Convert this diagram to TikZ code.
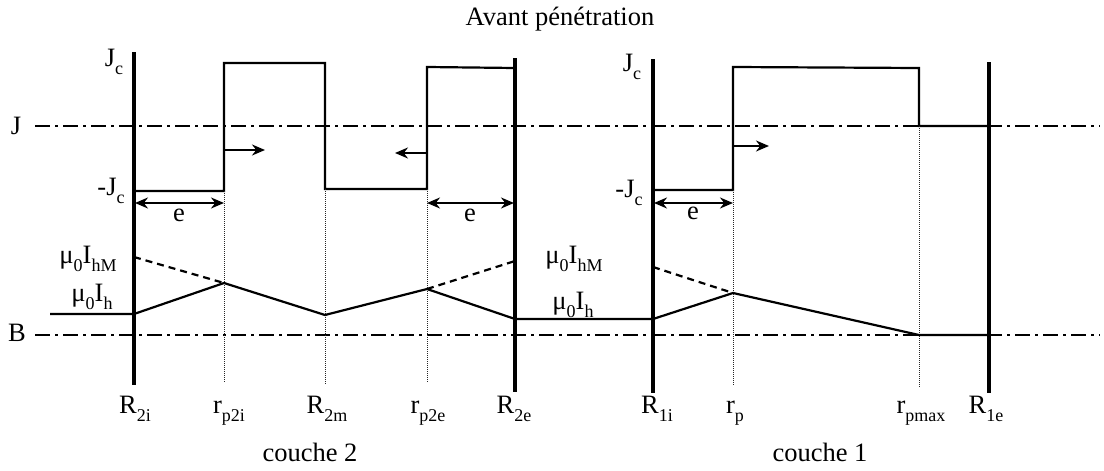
\documentclass[tikz,border=0pt]{standalone}
\usepackage{fontspec}
\setmainfont{Liberation Serif}
\usetikzlibrary{arrows.meta}
\newcommand{\lo}[1]{\raisebox{-0.33em}{\fontsize{18}{20}\selectfont #1}}
\begin{document}
\begin{tikzpicture}[x=1pt,y=-1pt,
  thickbar/.style={line width=4.4pt},
  prof/.style={line width=2.2pt},
  axisline/.style={line width=2pt, dash pattern=on 15pt off 5pt on 3pt off 5pt},
  guide/.style={line width=0.9pt, dash pattern=on 1pt off 1pt, black!85},
  dashprof/.style={line width=2.2pt, dash pattern=on 7pt off 5pt},
  earrow/.style={line width=2pt, {Stealth[length=13pt,width=11pt]}-{Stealth[length=13pt,width=11pt]}},
  darrow/.style={line width=2pt, -{Stealth[length=13pt,width=11pt]}},
  lbl/.style={font=\fontsize{26.5}{30}\selectfont, inner sep=0pt, anchor=base},
]
\useasboundingbox (0,0) rectangle (1104,471);

% title
\node[lbl] (title) at (560,25) {Avant pénétration};

% axis lines
\coordinate (Jl) at (35,126); \coordinate (Jr) at (1100,126);
\coordinate (Bl) at (35,335); \coordinate (Br) at (1100,335);
\draw[axisline] (Jl) -- (Jr);
\draw[axisline] (Bl) -- (Br);
\node[lbl] (Jlab) at (16,134) {J};
\node[lbl] (Blab) at (17,341) {B};

% thick bars
\coordinate (R2it) at (134,52);  \coordinate (R2ib) at (134,385);
\coordinate (R2et) at (515,58);  \coordinate (R2eb) at (515,392);
\coordinate (R1it) at (653,59);  \coordinate (R1ib) at (653,393);
\coordinate (R1et) at (989,62);  \coordinate (R1eb) at (989,393);
\draw[thickbar] (R2it) -- (R2ib);
\draw[thickbar] (R2et) -- (R2eb);
\draw[thickbar] (R1it) -- (R1ib);
\draw[thickbar] (R1et) -- (R1eb);

% J profile, couche 2
\coordinate (a1) at (134,191); \coordinate (a2) at (224,191);
\coordinate (a3) at (224,63);  \coordinate (a4) at (325,63);
\coordinate (a5) at (325,189); \coordinate (a6) at (427,189);
\coordinate (a7) at (427,67);  \coordinate (a8) at (515,68);
\draw[prof] (a1) -- (a2) -- (a3) -- (a4) -- (a5) -- (a6) -- (a7) -- (a8);
% J profile, couche 1
\coordinate (b1) at (653,190); \coordinate (b2) at (733,190);
\coordinate (b3) at (733,67);  \coordinate (b4) at (919,68);
\coordinate (b5) at (919,126); \coordinate (b6) at (989,126);
\draw[prof] (b1) -- (b2) -- (b3) -- (b4) -- (b5) -- (b6);

% thin guides
\coordinate (g1) at (224,383); \coordinate (g2) at (325,384);
\coordinate (g3) at (427,383); \coordinate (g4) at (733,385);
\coordinate (g5) at (919,387);
\draw[guide] (a2) -- (g1);
\draw[guide] (a5) -- (g2);
\draw[guide] (a6) -- (g3);
\draw[guide] (b2) -- (g4);
\draw[guide] (b5) -- (g5);

% B profile
\coordinate (c0) at (50,314);  \coordinate (c1) at (134,314);
\coordinate (c2) at (224,283); \coordinate (c3) at (325,315);
\coordinate (c4) at (427,289); \coordinate (c5) at (515,319);
\coordinate (c6) at (653,319); \coordinate (c7) at (733,293);
\coordinate (c8) at (919,335); \coordinate (c9) at (989,335);
\draw[prof] (c0) -- (c1) -- (c2) -- (c3) -- (c4) -- (c5) -- (c6) -- (c7) -- (c8) -- (c9);
\coordinate (d1) at (134,257); \coordinate (d2) at (515,261); \coordinate (d3) at (653,267);
\draw[dashprof] (d1) -- (c2);
\draw[dashprof] (c4) -- (d2);
\draw[dashprof] (d3) -- (c7);

% e arrows
\coordinate (e1a) at (135,203); \coordinate (e1b) at (224,203);
\coordinate (e2a) at (427,203); \coordinate (e2b) at (514,203);
\coordinate (e3a) at (654,203); \coordinate (e3b) at (733,203);
\draw[earrow] (e1a) -- (e1b);
\draw[earrow] (e2a) -- (e2b);
\draw[earrow] (e3a) -- (e3b);
\node[lbl] (e1) at (179,221) {e};
\node[lbl] (e2) at (470,221) {e};
\node[lbl] (e3) at (693,219) {e};

% direction arrows
\coordinate (f1a) at (224,150); \coordinate (f1b) at (265,150);
\coordinate (f2a) at (427,153); \coordinate (f2b) at (395,153);
\coordinate (f3a) at (733,146); \coordinate (f3b) at (769,146);
\draw[darrow] (f1a) -- (f1b);
\draw[darrow] (f2a) -- (f2b);
\draw[darrow] (f3a) -- (f3b);

% J labels
\node[lbl] (Jc1) at (114,66) {J\lo{c}};
\node[lbl] (mJc1) at (111,195) {-J\lo{c}};
\node[lbl] (Jc2) at (632,71) {J\lo{c}};
\node[lbl] (mJc2) at (629,197) {-J\lo{c}};

% B labels
\node[lbl] (mhM1) at (88,263) {μ\lo{0}I\lo{hM}};
\node[lbl] (mh1) at (92,301) {μ\lo{0}I\lo{h}};
\node[lbl] (mhM2) at (574,263) {μ\lo{0}I\lo{hM}};
\node[lbl] (mh2) at (573,309) {μ\lo{0}I\lo{h}};

% bottom labels
\node[lbl] (lR2i) at (135,413) {R\lo{2i}};
\node[lbl] (lrp2i) at (229,413) {r\lo{p2i}};
\node[lbl] (lR2m) at (327,413) {R\lo{2m}};
\node[lbl] (lrp2e) at (428,413) {r\lo{p2e}};
\node[lbl] (lR2e) at (514,413) {R\lo{2e}};
\node[lbl] (lR1i) at (657,413) {R\lo{1i}};
\node[lbl] (lrp) at (735,413) {r\lo{p}};
\node[lbl] (lrpmax) at (921,413) {r\lo{pmax}};
\node[lbl] (lR1e) at (986,413) {R\lo{1e}};

\node[lbl] (couche2) at (310,461) {couche 2};
\node[lbl] (couche1) at (820,461) {couche 1};
\end{tikzpicture}
\end{document}
